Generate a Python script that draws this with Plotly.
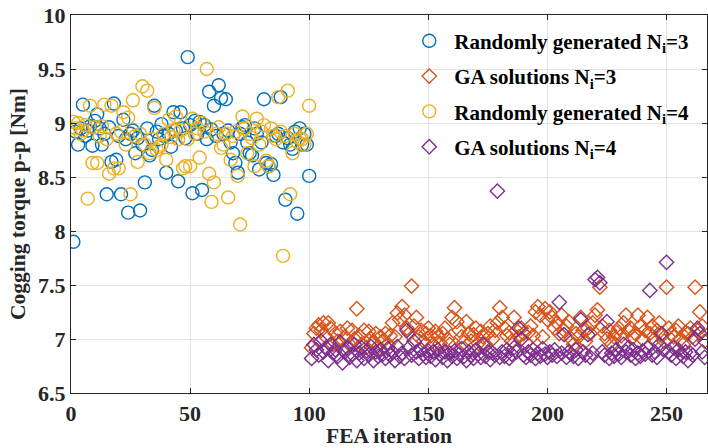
import plotly.graph_objects as go

# FEA iterations for the random seeds and for the GA runs
iter_random = list(range(1, 101))
iter_ga = list(range(101, 267))

# Cogging torque p-p [Nm], randomly generated designs, Ni=3
rand_n3 = [
    7.90, 8.92, 8.80, 8.95, 9.17, 8.88, 8.93, 8.97, 8.79, 9.02,
    9.08, 8.95, 8.80, 8.90, 8.34, 8.96, 8.64, 9.18, 8.66, 8.88,
    8.34, 9.03, 8.85, 8.17, 8.90, 8.93, 8.72, 8.86, 8.19, 8.80,
    8.45, 8.95, 8.70, 8.75, 9.16, 8.92, 8.85, 8.99, 8.88, 8.54,
    8.90, 8.78, 9.10, 8.93, 8.46, 9.10, 8.95, 8.86, 9.61, 8.98,
    8.35, 9.02, 8.90, 9.01, 8.38, 8.98, 8.85, 9.29, 8.94, 9.16,
    8.88, 9.35, 9.23, 8.90, 9.22, 8.93, 8.82, 8.72, 8.63, 8.54,
    8.90, 8.96, 8.98, 8.82, 8.72, 8.70, 8.95, 8.90, 8.57, 8.82,
    9.22, 8.63, 8.60, 8.62, 8.52, 8.88, 8.90, 9.24, 8.82, 8.29,
    8.86, 8.80, 8.76, 8.92, 8.16, 8.95, 8.80, 8.90, 8.80, 8.51,
]

# Cogging torque p-p [Nm], randomly generated designs, Ni=4
rand_n4 = [
    9.01, 8.95, 9.00, 8.90, 8.93, 8.98, 8.30, 9.16, 8.63, 8.96,
    8.63, 8.88, 8.97, 9.17, 8.85, 8.53, 9.16, 8.58, 8.90, 8.58,
    8.92, 9.10, 8.80, 9.05, 8.34, 9.21, 8.88, 8.64, 8.90, 9.34,
    8.80, 9.30, 8.72, 8.85, 9.14, 8.75, 8.78, 8.80, 8.90, 8.66,
    9.03, 8.87, 8.93, 9.06, 8.85, 8.93, 8.58, 8.60, 8.85, 8.60,
    9.04, 8.90, 8.95, 8.68, 9.00, 8.92, 9.50, 8.53, 8.27, 8.45,
    8.90, 8.96, 8.77, 8.80, 8.90, 8.31, 8.66, 8.88, 8.92, 8.51,
    8.06, 9.06, 8.95, 8.72, 8.90, 8.86, 8.60, 9.04, 8.80, 8.92,
    8.98, 8.65, 8.60, 8.95, 8.88, 8.85, 9.24, 8.92, 7.77, 8.88,
    9.30, 8.34, 8.72, 8.90, 8.83, 8.86, 8.85, 8.80, 8.90, 9.16,
]

# Cogging torque p-p [Nm], GA solutions, Ni=3
ga_n3 = [
    6.92, 7.05, 7.10, 7.13, 7.08, 7.15, 7.02, 7.15, 7.10, 6.95,
    7.05, 6.98, 7.07, 6.90, 7.02, 7.10, 6.95, 7.08, 7.00, 7.28,
    7.03, 6.95, 7.08, 6.92, 7.07, 7.00, 6.97, 7.05, 6.93, 7.02,
    6.98, 7.05, 6.95, 7.03, 7.15, 7.02, 7.24, 7.18, 7.30, 7.22,
    7.10, 7.05, 7.49, 7.12, 7.20, 7.02, 7.08, 6.98, 7.05, 7.10,
    7.03, 6.95, 7.07, 7.02, 6.96, 7.05, 7.10, 7.00, 6.95, 7.20,
    7.29, 7.16, 7.08, 7.02, 6.97, 7.16, 7.05, 6.98, 7.04, 7.10,
    6.96, 7.07, 7.02, 6.95, 7.05, 7.12, 7.00, 7.08, 7.15, 7.29,
    7.20, 7.10, 7.03, 7.06, 6.98, 7.20, 7.08, 7.02, 7.10, 7.05,
    6.97, 7.06, 7.12, 7.03, 7.25, 7.30, 7.22, 7.02, 7.28, 7.18,
    7.25, 7.20, 7.10, 7.15, 7.05, 7.22, 7.08, 7.12, 7.16, 7.00,
    6.95, 7.05, 7.02, 7.20, 7.08, 6.98, 7.10, 7.05, 7.15, 7.22,
    7.27, 7.48, 7.12, 7.05, 7.00, 7.08, 6.95, 7.02, 7.06, 7.10,
    7.03, 7.15, 7.22, 7.08, 7.10, 7.02, 7.05, 7.22, 7.12, 7.00,
    7.08, 7.20, 7.05, 7.12, 7.00, 7.08, 7.15, 7.03, 6.98, 7.48,
    7.10, 7.05, 7.02, 7.08, 7.12, 7.00, 6.95, 7.06, 7.05, 7.10,
    7.02, 7.48, 7.08, 7.25, 7.12, 6.98,
]

# Cogging torque p-p [Nm], GA solutions, Ni=4
ga_n4 = [
    6.82, 6.95, 6.90, 6.85, 6.98, 6.88, 6.92, 6.80, 6.95, 6.87,
    6.90, 6.84, 6.97, 6.78, 6.88, 6.92, 6.83, 6.86, 6.95, 6.80,
    6.87, 6.92, 6.82, 6.89, 6.85, 6.93, 6.80, 6.88, 6.84, 6.90,
    6.86, 6.82, 6.91, 6.85, 6.88, 6.80, 6.93, 6.84, 6.87, 6.82,
    7.08, 6.92, 6.85, 6.98, 6.88, 6.82, 6.90, 6.86, 6.83, 6.89,
    6.84, 6.88, 6.81, 6.90, 6.86, 6.83, 6.88, 6.80, 6.87, 6.84,
    6.89, 6.82, 6.86, 6.91, 6.84, 6.80, 6.88, 6.85, 6.82, 6.90,
    6.86, 6.83, 6.95, 6.84, 6.88, 6.81, 6.87, 6.85, 8.37, 6.83,
    6.88, 6.84, 6.90, 6.82, 6.86, 6.92, 6.88, 7.10, 7.00, 6.85,
    6.83, 6.88, 6.85, 6.90, 6.82, 6.87, 6.84, 6.91, 6.86, 6.83,
    6.88, 6.85, 6.90, 6.84, 7.34, 6.87, 7.04, 6.83, 6.88, 6.86,
    6.84, 6.90, 6.82, 7.18, 6.88, 6.85, 7.04, 6.83, 6.87, 7.55,
    7.57, 7.52, 6.88, 6.85, 7.16, 6.82, 6.87, 6.84, 6.90, 6.86,
    6.83, 6.95, 6.88, 6.92, 6.85, 6.90, 6.82, 6.87, 6.84, 6.89,
    6.86, 6.92, 7.45, 6.85, 6.88, 6.83, 6.95, 7.05, 6.90, 7.71,
    6.88, 6.85, 6.92, 6.82, 6.90, 6.86, 6.84, 6.88, 6.80, 6.87,
    6.85, 7.00, 7.10, 7.05, 6.88, 6.83,
]

x_ticks = [0, 50, 100, 150, 200, 250]
y_ticks = [6.5, 7, 7.5, 8, 8.5, 9, 9.5, 10]
y_tick_text = ["6.5", "7", "7.5", "8", "8.5", "9", "9.5", "10"]

BLUE = "#0072BD"
ORANGE = "#D95319"
YELLOW = "#EDB120"
PURPLE = "#7E2F8E"
FONT = "Liberation Serif"

fig = go.Figure()


def add_series(x, y, name, color, symbol, size):
    # open symbols take their outline colour from marker.color
    fig.add_trace(go.Scatter(
        x=x, y=y, mode="markers", name=name, legendgroup=name,
        marker=dict(symbol=symbol, size=size, color=color,
                    line=dict(color=color, width=1.4)),
    ))


add_series(iter_random, rand_n3, "Randomly generated N<sub>i</sub>=3", BLUE, "circle-open", 13)
add_series(iter_ga, ga_n3, "GA solutions N<sub>i</sub>=3", ORANGE, "diamond-open", 11)
add_series(iter_random, rand_n4, "Randomly generated N<sub>i</sub>=4", YELLOW, "circle-open", 13)
add_series(iter_ga, ga_n4, "GA solutions N<sub>i</sub>=4", PURPLE, "diamond-open", 11)

axis_common = dict(
    showline=True, linecolor="#262626", linewidth=1.2, mirror="ticks",
    ticks="inside", ticklen=5, tickcolor="#262626",
    showgrid=True, gridcolor="#E3E3E3", gridwidth=1, zeroline=False,
    tickfont=dict(family=FONT, size=22, color="#262626", weight="bold"),
)

title_font = dict(family=FONT, size=21.5, color="#262626", weight="bold")

fig.update_layout(
    width=708, height=448,
    margin=dict(l=71, r=1, t=15, b=55),
    paper_bgcolor="white", plot_bgcolor="white",
    font=dict(family=FONT, color="#262626"),
    showlegend=True,
    legend=dict(
        x=0.524, y=0.985, xanchor="left", yanchor="top",
        bgcolor="rgba(0,0,0,0)", borderwidth=0,
        font=dict(family=FONT, size=21, color="black", weight="bold"),
        tracegroupgap=5, itemwidth=40,
    ),
    xaxis=dict(
        range=[0, 267], tickvals=x_ticks,
        title=dict(text="FEA iteration", font=title_font, standoff=4),
        **axis_common,
    ),
    yaxis=dict(
        range=[6.5, 10], tickvals=y_ticks, ticktext=y_tick_text,
        title=dict(text="Cogging torque p-p [Nm]", font=title_font, standoff=6),
        **axis_common,
    ),
)

fig.write_html("out.html")
